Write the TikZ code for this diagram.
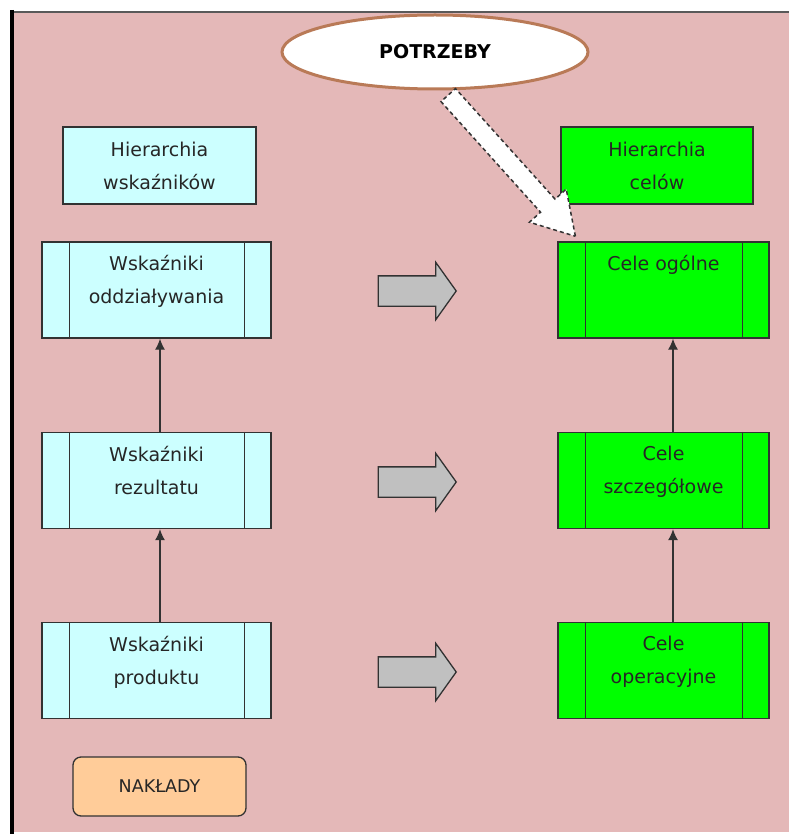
\documentclass[tikz,border=0pt]{standalone}
\usepackage{fontspec}
\setmainfont{DejaVu Sans}
\usetikzlibrary{shapes.arrows,shapes.geometric,arrows.meta}

\definecolor{tlo}{RGB}{228,184,184}
\definecolor{blekit}{RGB}{204,255,255}
\definecolor{zielony}{RGB}{0,255,0}
\definecolor{brazowy}{RGB}{185,122,87}
\definecolor{pomarancz}{RGB}{255,204,153}
\definecolor{szary}{RGB}{192,192,192}
\definecolor{ramka}{RGB}{50,50,50}

\begin{document}
\begin{tikzpicture}[x=1pt, y=-1pt,
  font=\fontsize{19}{33}\selectfont,
  naglowek/.style={draw=ramka, line width=1.3pt, minimum width=193pt, minimum height=77pt, align=center, text=black!85},
  blok/.style={draw=ramka, line width=1.3pt, minimum height=96pt},
  napis/.style={anchor=north, align=center, inner sep=0pt, text=black!85},
  strzalka/.style={single arrow, draw=ramka, fill=szary, line width=1.3pt, minimum height=78pt,
    inner xsep=0pt, inner ysep=14.5pt, single arrow head extend=13.5pt, single arrow tip angle=109, anchor=tip},
  gora/.style={-{Latex[length=11pt,width=10pt]}, ramka, line width=1.3pt}]

\useasboundingbox (0,0) rectangle (789,834);
\fill [white] (0,0) rectangle (789,834);
\fill [tlo] (12,12) rectangle (789,832);
\draw [line width=2pt, black!65] (12,12) -- (789,12);
\draw [line width=4pt, black] (12,10) -- (12,834);

\coordinate (HW) at (159.5,165.5);
\coordinate (HC) at (657,165.5);
\coordinate (WO) at (156.5,290);
\coordinate (WR) at (156.5,480.5);
\coordinate (WP) at (156.5,670.5);
\coordinate (CO) at (663.5,290);
\coordinate (CS) at (663.5,480.5);
\coordinate (CP) at (663.5,670.5);

% naglowki
\node [naglowek, fill=blekit] (hwsk) at (HW) {Hierarchia\\wskaźników};
\node [naglowek, fill=zielony, minimum width=192pt] (hcel) at (HC) {Hierarchia\\celów};

% bloki
\node [blok, fill=blekit, minimum width=229pt] (oddz) at (WO) {};
\node [blok, fill=blekit, minimum width=229pt] (rez) at (WR) {};
\node [blok, fill=blekit, minimum width=229pt] (prod) at (WP) {};
\node [blok, fill=zielony, minimum width=211pt] (ogol) at (CO) {};
\node [blok, fill=zielony, minimum width=211pt] (szcz) at (CS) {};
\node [blok, fill=zielony, minimum width=211pt] (oper) at (CP) {};

\foreach \b in {oddz,rez,prod,ogol,szcz,oper}{
  \draw [ramka, line width=1.3pt] ([xshift=28pt]\b.north west) -- ([xshift=28pt]\b.south west);
  \draw [ramka, line width=1.3pt] ([xshift=-27pt]\b.north east) -- ([xshift=-27pt]\b.south east);
}

\node [napis] at ([yshift=-14pt]oddz.north) {Wskaźniki\\oddziaływania};
\node [napis] at ([yshift=-14pt]rez.north) {Wskaźniki\\rezultatu};
\node [napis] at ([yshift=-14pt]prod.north) {Wskaźniki\\produktu};
\node [napis] at ([yshift=-14pt]ogol.north) {Cele ogólne};
\node [napis] at ([yshift=-14pt]szcz.north) {Cele\\szczegółowe};
\node [napis] at ([yshift=-14pt]oper.north) {Cele\\operacyjne};

% strzalki pionowe
\draw [gora] ([xshift=3.5pt]rez.north) -- ([xshift=3.5pt]oddz.south);
\draw [gora] ([xshift=3.5pt]prod.north) -- ([xshift=3.5pt]rez.south);
\draw [gora] ([xshift=9.5pt]szcz.north) -- ([xshift=9.5pt]ogol.south);
\draw [gora] ([xshift=9.5pt]oper.north) -- ([xshift=9.5pt]szcz.south);

% szare strzalki
\node [strzalka] (s1) at (457,291) {};
\node [strzalka] (s2) at (457,482) {};
\node [strzalka] (s3) at (457,672) {};

% potrzeby
\node [ellipse, draw=brazowy, line width=3pt, fill=white, minimum width=306pt, minimum height=74pt,
  inner sep=0pt, font=\bfseries\fontsize{19}{23}\selectfont] (potrzeby) at (435,52) {POTRZEBY};

\coordinate (T) at ([xshift=19pt,yshift=4pt]ogol.north west);
\node [single arrow, draw=black!80, dash pattern=on 4pt off 3pt, fill=white, line width=1.5pt,
  minimum height=190pt, inner xsep=0pt, inner ysep=9pt, single arrow head extend=15pt,
  single arrow tip angle=62, rotate=-48, anchor=tip] (dash) at (T) {};

% naklady
\node [draw=ramka, fill=pomarancz, rounded corners=8pt, line width=1.3pt, minimum width=173pt,
  minimum height=59pt, text=black!85, font=\fontsize{17.5}{21}\selectfont] (naklady) at (159.5,786.5) {NAKŁADY};

\end{tikzpicture}
\end{document}
